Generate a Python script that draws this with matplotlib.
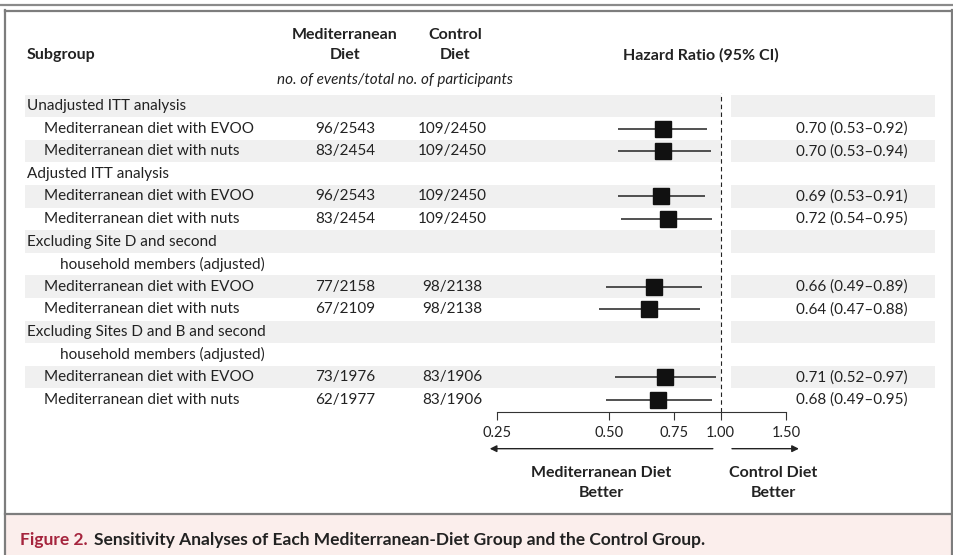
import matplotlib
matplotlib.use("Agg")
import matplotlib.pyplot as plt
from matplotlib.lines import Line2D
from matplotlib.patches import Rectangle
from matplotlib import transforms

plt.rcParams['font.family'] = ['Lato', 'DejaVu Sans']

# rows of the table, top to bottom
labels = ["Unadjusted ITT analysis",
          "Mediterranean diet with EVOO",
          "Mediterranean diet with nuts",
          "Adjusted ITT analysis",
          "Mediterranean diet with EVOO",
          "Mediterranean diet with nuts",
          "Excluding Site D and second",
          "household members (adjusted)",
          "Mediterranean diet with EVOO",
          "Mediterranean diet with nuts",
          "Excluding Sites D and B and second",
          "household members (adjusted)",
          "Mediterranean diet with EVOO",
          "Mediterranean diet with nuts"]
indent = [0, 1, 1, 0, 1, 1, 0, 2, 1, 1, 0, 2, 1, 1]

# rows that carry an estimate
est_rows = [1, 2, 4, 5, 8, 9, 12, 13]
med_events = ["96/2543", "83/2454", "96/2543", "83/2454",
              "77/2158", "67/2109", "73/1976", "62/1977"]
ctl_events = ["109/2450", "109/2450", "109/2450", "109/2450",
              "98/2138", "98/2138", "83/1906", "83/1906"]
hr = [0.70, 0.70, 0.69, 0.72, 0.66, 0.64, 0.71, 0.68]
lo = [0.53, 0.53, 0.53, 0.54, 0.49, 0.47, 0.52, 0.49]
hi = [0.92, 0.94, 0.91, 0.95, 0.89, 0.88, 0.97, 0.95]

xticks = [0.25, 0.50, 0.75, 1.00, 1.50]

W, H = 954, 555
fig = plt.figure(figsize=(W / 100, H / 100), dpi=100)


def fx(x):
    return x / W


def fy(y):
    return 1 - y / H


grey = '#7d7d7d'
band = '#f0f0f0'
txt = '#222222'

# frame and caption area
fig.add_artist(Rectangle((fx(5), 0), fx(948), fy(514), transform=fig.transFigure,
                         facecolor='#fbeeec', edgecolor='none', zorder=0))
fig.add_artist(Line2D([0, 1], [fy(5), fy(5)], transform=fig.transFigure, color='#8a8a8a', lw=1.6))
fig.add_artist(Line2D([fx(5), fx(953)], [fy(10.5), fy(10.5)], transform=fig.transFigure, color=grey, lw=1.6))
fig.add_artist(Line2D([fx(5.5), fx(5.5)], [fy(10), 0], transform=fig.transFigure, color=grey, lw=1.6))
fig.add_artist(Line2D([fx(952), fx(952)], [fy(10), 0], transform=fig.transFigure, color=grey, lw=1.6))
fig.add_artist(Line2D([fx(5), fx(953)], [fy(514), fy(514)], transform=fig.transFigure, color=grey, lw=1.6))

top_px, bot_px = 93, 412
ylim = (13.54, -0.575)
pos = [fx(497), fy(bot_px), fx(786) - fx(497), (bot_px - top_px) / H]

# background bands
bg = fig.add_axes([0, pos[1], 1, pos[3]], zorder=0)
bg.set_ylim(ylim)
bg.axis('off')
for i in range(0, len(labels), 2):
    bg.axhspan(i - 0.5, i + 0.5, xmin=fx(25), xmax=fx(721), color=band, lw=0)
    bg.axhspan(i - 0.5, i + 0.5, xmin=fx(731), xmax=fx(935), color=band, lw=0)

# forest plot
ax = fig.add_axes(pos, zorder=2)
ax.patch.set_alpha(0)
ax.set_xscale('log')
ax.set_xlim(0.25, 1.5)
ax.set_ylim(ylim)
for r, m, l, h in zip(est_rows, hr, lo, hi):
    ax.plot([l, h], [r, r], color=txt, lw=1.1, solid_capstyle='butt')
    ax.plot(m, r, marker='s', ms=12.2, color='#111111', mec='#111111')
ax.axvline(1.0, color=txt, lw=0.8, ls=(0, (4, 3)))
for s in ['top', 'left', 'right']:
    ax.spines[s].set_visible(False)
ax.spines['bottom'].set_color('#333333')
ax.spines['bottom'].set_linewidth(0.8)
ax.set_yticks([])
ax.set_xticks(xticks)
ax.set_xticklabels([f"{t:.2f}" for t in xticks])
ax.xaxis.set_minor_locator(matplotlib.ticker.NullLocator())
ax.tick_params(axis='x', direction='out', length=5.8, width=0.8, pad=4,
               labelsize=10.5, colors='#333333', labelcolor=txt)

# text columns
fs = 11
tr = transforms.blended_transform_factory(fig.transFigure, ax.transData)
indent_px = [27, 44, 60]
for i, (lab, ind) in enumerate(zip(labels, indent)):
    fig.text(fx(indent_px[ind]), i, lab, transform=tr, ha='left', va='center',
             fontsize=fs, color=txt)
for r, me, ce, m, l, h in zip(est_rows, med_events, ctl_events, hr, lo, hi):
    fig.text(fx(345), r, me, transform=tr, ha='center', va='center', fontsize=fs, color=txt)
    fig.text(fx(452), r, ce, transform=tr, ha='center', va='center', fontsize=fs, color=txt)
    fig.text(fx(908), r, f"{m:.2f} ({l:.2f}\u2013{h:.2f})", transform=tr,
             ha='right', va='center', fontsize=fs, color=txt)

# headers
hkw = dict(fontsize=11.5, fontweight='bold', color=txt, va='center')
fig.text(fx(27), fy(55), "Subgroup", ha='left', **hkw)
fig.text(fx(345), fy(35), "Mediterranean", ha='center', **hkw)
fig.text(fx(345), fy(55), "Diet", ha='center', **hkw)
fig.text(fx(455), fy(35), "Control", ha='center', **hkw)
fig.text(fx(455), fy(55), "Diet", ha='center', **hkw)
fig.text(fx(701), fy(55), "Hazard Ratio (95% CI)", ha='center', **hkw)
fig.text(fx(395), fy(80), "no. of events/total no. of participants", ha='center',
         va='center', fontsize=11, style='italic', color=txt)

# direction arrows and labels
ax.annotate('', xy=(0.239, -0.115), xytext=(0.953, -0.115), xycoords=('data', 'axes fraction'),
            arrowprops=dict(arrowstyle='-|>', color=txt, lw=1.0, mutation_scale=10,
                            shrinkA=0, shrinkB=0), annotation_clip=False)
ax.annotate('', xy=(1.625, -0.115), xytext=(1.073, -0.115), xycoords=('data', 'axes fraction'),
            arrowprops=dict(arrowstyle='-|>', color=txt, lw=1.0, mutation_scale=10,
                            shrinkA=0, shrinkB=0), annotation_clip=False)
bkw = dict(fontsize=11.5, fontweight='bold', color=txt, ha='center', va='center')
fig.text(fx(601), fy(473), "Mediterranean Diet", **bkw)
fig.text(fx(601), fy(493), "Better", **bkw)
fig.text(fx(773), fy(473), "Control Diet", **bkw)
fig.text(fx(773), fy(493), "Better", **bkw)

# caption
fig.text(fx(20), fy(540), "Figure 2.", fontsize=12.5, fontweight='bold', color='#a5243d',
         ha='left', va='center')
fig.text(fx(94), fy(540), "Sensitivity Analyses of Each Mediterranean-Diet Group and the Control Group.",
         fontsize=12.5, fontweight='bold', color=txt, ha='left', va='center')

fig.savefig('out.png', dpi=100)
